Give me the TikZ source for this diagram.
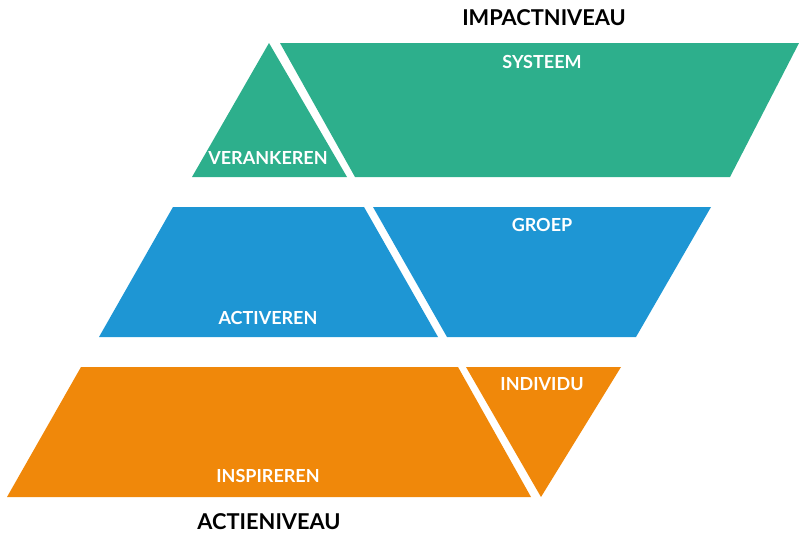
\documentclass[tikz,border=0pt]{standalone}
\usepackage{fontspec}
\setmainfont{Lato}
\usetikzlibrary{positioning}

\definecolor{groen}{RGB}{45,175,140}
\definecolor{blauw}{RGB}{30,150,212}
\definecolor{oranje}{RGB}{240,136,10}

\begin{document}
\begin{tikzpicture}[x=1pt,y=-1pt,
        lbl/.style={text=white,font=\bfseries\fontsize{18}{20}\selectfont,inner sep=0pt},
        niveau/.style={text=black,font=\bfseries\fontsize{21.8}{24}\selectfont,inner sep=0pt}]
    \useasboundingbox (0,0) rectangle (799,533);
    % impactniveau
    \fill[groen] (269,43) -- (347,177) -- (192,177) -- cycle;
    \fill[groen] (280,43) -- (799,43) -- (730,177) -- (355,177) -- cycle;
    % groep
    \fill[blauw] (173,207) -- (364,207) -- (438,337) -- (99,337) -- cycle;
    \fill[blauw] (373,207) -- (711,207) -- (636,337) -- (447,337) -- cycle;
    % actieniveau
    \fill[oranje] (81,367) -- (458,367) -- (531,497) -- (7,497) -- cycle;
    \fill[oranje] (466,367) -- (621,367) -- (541,497) -- cycle;

    \node[niveau] (impact) at (544,18) {IMPACTNIVEAU};
    \node[lbl] (systeem) at (542,62) {SYSTEEM};
    \node[lbl] (verankeren) at (268,158) {VERANKEREN};
    \node[lbl] (groep) at (542,225) {GROEP};
    \node[lbl] (activeren) at (268,318) {ACTIVEREN};
    \node[lbl] (individu) at (542,384) {INDIVIDU};
    \node[lbl] (inspireren) at (268,476) {INSPIREREN};
    \node[niveau] (actie) at (269,522) {ACTIENIVEAU};
\end{tikzpicture}
\end{document}
